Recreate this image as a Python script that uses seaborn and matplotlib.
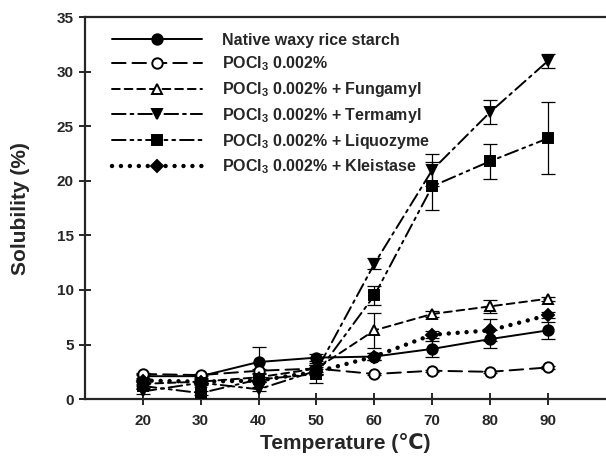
import numpy as np
import pandas as pd
import matplotlib
matplotlib.use("Agg")
import matplotlib.pyplot as plt
import seaborn as sns

temps = [20, 30, 40, 50, 60, 70, 80, 90]

native = [2.1, 2.1, 3.4, 3.8, 3.9, 4.6, 5.5, 6.3]
native_err = [0.2, 0.2, 1.4, 0.3, 0.3, 0.7, 0.85, 0.8]
pocl3 = [2.3, 2.2, 2.6, 2.8, 2.3, 2.6, 2.5, 2.9]
pocl3_err = [0.1, 0.1, 0.2, 0.3, 0.1, 0.1, 0.1, 0.1]
fungamyl = [1.4, 1.6, 2.0, 2.8, 6.3, 7.8, 8.5, 9.2]
fungamyl_err = [0.2, 0.2, 0.3, 0.5, 1.6, 0.3, 0.6, 0.2]
termamyl = [0.7, 1.5, 0.9, 2.6, 12.4, 21.0, 26.3, 31.0]
termamyl_err = [0.2, 0.2, 0.2, 0.3, 0.5, 1.5, 1.1, 0.65]
liquozyme = [1.2, 0.55, 1.8, 2.3, 9.5, 19.5, 21.8, 23.9]
liquozyme_err = [0.2, 0.2, 0.2, 0.8, 0.9, 2.2, 1.6, 3.3]
kleistase = [1.7, 1.6, 1.7, 2.5, 3.9, 5.9, 6.3, 7.7]
kleistase_err = [0.1, 0.1, 0.1, 0.3, 0.3, 0.3, 1.0, 0.3]

labels = [
    "Native waxy rice starch",
    r"POCl$_3$ 0.002%",
    r"POCl$_3$ 0.002% + Fungamyl",
    r"POCl$_3$ 0.002% + Termamyl",
    r"POCl$_3$ 0.002% + Liquozyme",
    r"POCl$_3$ 0.002% + Kleistase",
]

sns.set_style("ticks")
plt.rcParams['font.family'] = ['Liberation Sans', 'DejaVu Sans']
plt.rcParams['font.weight'] = 'bold'
plt.rcParams['mathtext.fontset'] = 'custom'
plt.rcParams['mathtext.rm'] = 'Liberation Sans:bold'
plt.rcParams['mathtext.it'] = 'Liberation Sans:bold'
plt.rcParams['mathtext.bf'] = 'Liberation Sans:bold'

series = [
    (native, native_err, dict(linestyle='-', marker='o', mfc='black')),
    (pocl3, pocl3_err, dict(linestyle=(0, (7, 3.5)), marker='o', mfc='white')),
    (fungamyl, fungamyl_err, dict(linestyle=(0, (4, 2.5)), marker='^', mfc='white')),
    (termamyl, termamyl_err, dict(linestyle=(0, (7, 2.5, 1.5, 2.5)), marker='v', mfc='black')),
    (liquozyme, liquozyme_err, dict(linestyle=(0, (7, 2.5, 1.5, 2.5, 1.5, 2.5)), marker='s', mfc='black')),
    (kleistase, kleistase_err, dict(linestyle=(0, (0.01, 2.0)), marker='D', mfc='black')),
]

fig = plt.figure(figsize=(6.06, 4.63), dpi=100)
ax = fig.add_axes([0.140, 0.138, 0.86, 0.825])

for (vals, errs, st), lab in zip(series, labels):
    df = pd.DataFrame({'T': temps, 'S': vals})
    lw = 3.2 if st['marker'] == 'D' else 1.4
    ms = 6.5 if st['marker'] == 'D' else 7.5
    ax.errorbar(temps, vals, yerr=errs, fmt='none', ecolor='black',
                elinewidth=0.9, capsize=5, capthick=0.9, zorder=2)
    sns.lineplot(data=df, x='T', y='S', ax=ax, color='black', lw=lw,
                 linestyle=st['linestyle'], marker=st['marker'],
                 markersize=ms, markerfacecolor=st['mfc'],
                 markeredgecolor='black', markeredgewidth=1.4,
                 dash_capstyle='round', label=lab, zorder=3)

ax.set_xlim(10, 100)
ax.set_ylim(0, 35)
ax.set_xticks(temps)
ax.set_yticks(range(0, 36, 5))
ax.spines['right'].set_visible(False)
for s in ['left', 'bottom', 'top']:
    ax.spines[s].set_linewidth(1.6)
ax.tick_params(direction='inout', length=9, width=1.4, labelsize=11)
for t in ax.get_xticklabels() + ax.get_yticklabels():
    t.set_fontweight('bold')
ax.tick_params(axis='x', pad=6)

ax.set_xlabel("Temperature (℃)", fontsize=15, fontweight='bold', labelpad=4)
ax.set_ylabel("Solubility (%)", fontsize=15, fontweight='bold', labelpad=19)

leg = ax.legend(loc='upper left', frameon=False, handlelength=5.6,
                numpoints=1, fontsize=11.5, labelspacing=0.42,
                handletextpad=1.3, borderaxespad=0.0,
                bbox_to_anchor=(0.04, 0.975))
for t in leg.get_texts():
    t.set_fontweight('bold')

fig.savefig("out.png", dpi=100)
